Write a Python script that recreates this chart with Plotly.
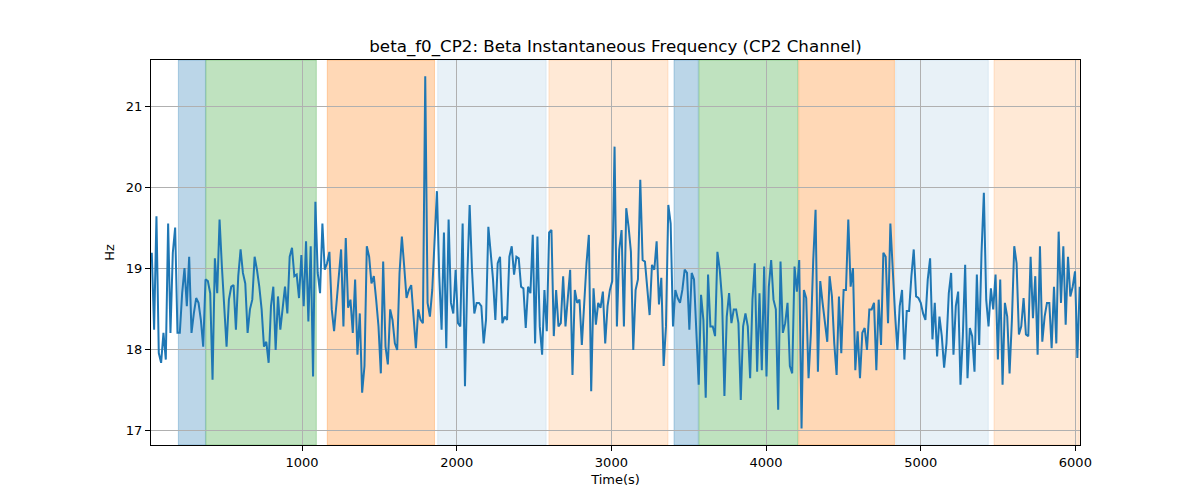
import numpy as np
import plotly.graph_objects as go

# Beta instantaneous frequency (Hz), uniform sampling
hz_values = [
    19.19, 18.24, 19.64, 17.95, 17.83, 18.2, 17.87, 19.55, 18.2, 19.19,
    19.5, 18.2, 18.2, 18.69, 19.0, 18.53, 19.14, 18.2, 18.44, 18.63,
    18.57, 18.36, 18.03, 18.86, 18.84, 18.69, 17.62, 19.12, 18.69, 19.6,
    19.02, 18.44, 18.03, 18.61, 18.77, 18.79, 18.24, 18.9, 19.23, 18.94,
    18.81, 18.2, 18.49, 18.61, 19.14, 18.98, 18.77, 18.49, 18.03, 18.09,
    17.83, 18.53,
    18.77, 17.99, 18.65, 18.24, 18.49, 18.77, 18.44, 19.14, 19.25, 18.9,
    18.92, 18.63, 19.16, 18.53, 19.33, 18.34, 19.27, 17.66, 19.82, 18.94,
    18.69, 19.55, 18.98, 19.06, 19.2, 18.49, 18.22, 18.53, 18.86, 19.23,
    18.28, 19.37, 18.51, 18.61, 18.2, 18.86, 17.93, 18.44, 17.46, 17.79,
    19.27, 19.14, 18.81, 18.9, 18.61, 18.28, 17.7, 19.08, 18.03, 17.81,
    18.49, 18.36, 18.07, 17.99, 18.94, 19.39, 19.02, 18.63, 18.73, 18.79,
    18.4, 18.01, 18.49, 18.36, 18.32, 21.37, 18.57, 18.4, 18.73, 19.39,
    19.95, 18.9, 18.24, 19.44, 18.01, 19.6, 18.57, 18.44, 18.98, 18.32,
    18.28, 19.55, 17.54, 18.9, 19.78, 18.98, 18.44, 18.57, 18.57, 18.53,
    18.07, 18.36, 19.51, 19.19, 18.86, 18.36, 19.06, 19.14, 18.32, 18.4,
    18.36, 19.14,
    19.27, 18.92, 19.14, 19.12, 18.77, 18.75, 18.26, 18.77, 18.69, 19.41,
    18.07, 19.39, 18.28, 17.93, 18.73, 18.22, 19.44, 19.47, 18.16, 18.73,
    18.28, 18.32, 18.9, 18.28, 18.67, 18.98, 17.68, 18.73, 18.57, 18.61,
    18.05, 18.57, 19.06, 19.41, 17.48, 18.75, 18.3, 18.57, 18.51, 18.71,
    18.07, 18.53, 18.73, 18.84, 20.5, 18.28, 19.23, 19.47, 18.28, 19.74,
    19.51, 19.2,
    17.99, 18.73, 18.86, 20.09, 19.1, 19.08, 18.69, 18.42, 19.04, 18.98,
    19.33, 18.55, 18.88, 17.79, 18.28, 19.78, 19.55, 18.28, 18.73, 18.63,
    18.57, 18.73, 18.98, 18.94, 18.24, 18.94, 18.86, 18.2, 17.56, 18.67,
    18.36, 17.4, 18.92, 18.28, 18.28, 18.16, 19.2, 18.98, 18.61, 17.42,
    18.4, 18.69, 18.32, 18.49, 18.49, 18.32, 17.37, 18.28, 18.44,
    18.28, 17.64, 18.61, 19.06, 17.72, 18.69, 17.74, 19.02, 17.66, 18.77,
    19.1, 18.61, 18.49, 17.25, 19.08, 18.2, 18.32, 18.57, 17.79, 17.7,
    19.02, 18.71, 19.1, 17.02, 18.73, 18.63, 17.64, 18.2, 19.1, 19.72,
    17.72, 18.84, 18.57, 18.32, 18.09, 18.9, 18.65, 18.07, 17.68, 18.65,
    17.95, 18.73, 18.73, 19.6, 18.77, 19.0, 17.74, 18.22, 17.64, 18.2,
    18.26, 17.99,
    18.49, 18.49, 18.57, 17.74, 18.61, 18.05, 19.19, 19.14, 18.32, 19.55,
    18.94, 18.44, 17.99, 18.53, 18.73, 17.87, 18.47, 18.47, 18.9, 19.23,
    18.65, 18.63, 18.57, 18.44, 18.36, 18.86, 19.12, 18.12, 18.57, 17.91,
    18.4, 18.16, 17.77, 18.07, 18.69, 18.94, 17.93, 18.53, 18.71, 17.56,
    18.16, 19.04, 17.64, 18.26, 18.16, 17.72, 18.92, 18.05, 19.19, 19.93,
    18.61, 18.28,
    18.75, 18.49, 18.92, 17.87, 18.86, 17.56, 18.57, 18.4, 17.7, 18.36,
    19.27, 19.06, 18.18, 18.28, 18.63, 18.18, 18.16, 19.14, 18.38, 18.9,
    17.93, 19.27, 18.09, 18.4, 18.57, 18.57, 18.01, 18.77, 18.07, 19.45,
    18.57, 19.27, 18.3, 19.14, 18.65, 18.77, 18.96, 17.89, 18.77,
]
t_start = 28.0
t_end = 6028.0

# Shaded segments: (start s, end s, colour)
seg_starts = [200, 378, 1163, 1877, 2596, 3405, 3566, 4211, 4838, 5474]
seg_ends = [375, 1092, 1856, 2578, 3366, 3562, 4206, 4830, 5437, 6025]
seg_colors = [
    "rgba(31,119,180,0.3)", "rgba(44,160,44,0.3)", "rgba(255,127,14,0.3)",
    "rgba(31,119,180,0.1)", "rgba(255,127,14,0.17)",
    "rgba(31,119,180,0.3)", "rgba(44,160,44,0.3)", "rgba(255,127,14,0.3)",
    "rgba(31,119,180,0.1)", "rgba(255,127,14,0.17)",
]

x_ticks = [1000, 2000, 3000, 4000, 5000, 6000]
y_ticks = [17, 18, 19, 20, 21]

times = np.linspace(t_start, t_end, len(hz_values))

fig = go.Figure()
for s, e, c in zip(seg_starts, seg_ends, seg_colors):
    fig.add_vrect(x0=s, x1=e, fillcolor=c, line=dict(color=c, width=1),
                  layer="below")

fig.add_trace(go.Scatter(x=times, y=hz_values, mode="lines",
                         line=dict(color="#1f77b4", width=2),
                         showlegend=False))

axis_common = dict(
    showgrid=True, gridcolor="#b0b0b0", gridwidth=1,
    showline=True, linecolor="black", linewidth=1, mirror=True,
    ticks="outside", ticklen=5, tickcolor="black", tickwidth=1,
    zeroline=False,
    tickfont=dict(family="DejaVu Sans", size=13, color="black"),
)

fig.update_layout(
    width=1200, height=500,
    margin=dict(l=143, r=128, t=52, b=63),
    paper_bgcolor="white", plot_bgcolor="white",
    title=dict(text="beta_f0_CP2: Beta Instantaneous Frequency (CP2 Channel)",
               x=0.5, xanchor="center", y=0.924, yanchor="middle",
               xref="paper",
               font=dict(family="DejaVu Sans", size=16.7, color="black")),
    xaxis=dict(range=[23, 6030], tickvals=x_ticks,
               title=dict(text="Time(s)", standoff=6,
                          font=dict(family="DejaVu Sans", size=13, color="black")),
               **axis_common),
    yaxis=dict(range=[16.815, 21.57], tickvals=y_ticks,
               title=dict(text="Hz", standoff=8,
                          font=dict(family="DejaVu Sans", size=13, color="black")),
               **axis_common),
)

fig.write_html("out.html")
